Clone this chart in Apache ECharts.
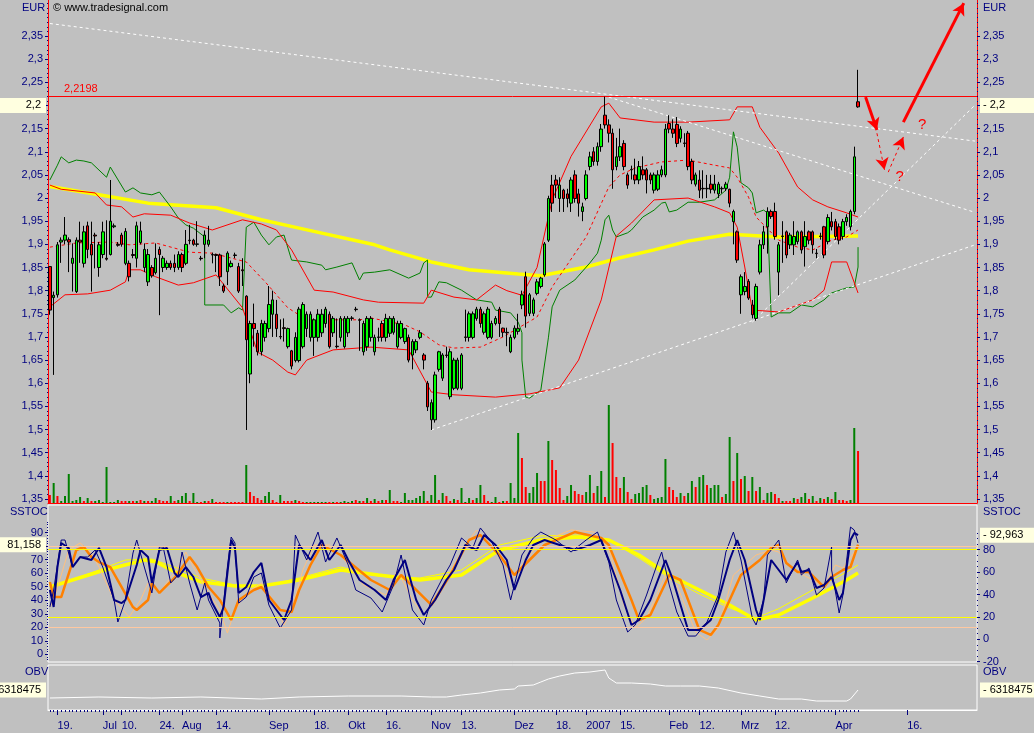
<!DOCTYPE html>
<html><head><meta charset="utf-8">
<script src="https://cdn.jsdelivr.net/npm/echarts/dist/echarts.min.js"></script>
<style>html,body{margin:0;padding:0;background:#c0c0c0;overflow:hidden}#c{width:1034px;height:733px}</style>
</head><body><div id="c"></div>
<script>
// ---------------- DATA ----------------
const N_CAT = 246;                      // trading-day slots incl. empty future area
const categories = Array.from({length: N_CAT}, (_, i) => String(i));
// [open, close, low, high]
const ohlc = [
[1.852,1.758,1.748,1.852],[1.785,1.790,1.618,1.798],[1.791,1.899,1.785,1.905],[1.905,1.909,1.860,1.915],[1.909,1.920,1.900,1.959],
[1.910,1.905,1.840,1.915],[1.859,1.870,1.798,1.902],[1.798,1.909,1.795,1.915],[1.909,1.905,1.860,1.949],[1.859,1.927,1.850,1.940],
[1.940,1.889,1.870,1.949],[1.900,1.877,1.798,1.949],[1.920,1.918,1.848,1.925],[1.850,1.899,1.830,1.905],[1.878,1.927,1.870,1.949],
[1.870,1.868,1.865,1.952],[1.878,1.950,1.876,2.039],[1.938,1.940,1.935,1.945],[1.900,1.898,1.895,1.905],[1.920,1.900,1.895,1.925],
[1.859,1.928,1.855,1.935],[1.859,1.830,1.820,1.865],[1.878,1.876,1.870,1.890],[1.870,1.940,1.850,1.949],[1.904,1.929,1.900,1.949],
[1.850,1.889,1.840,1.902],[1.819,1.878,1.810,1.890],[1.850,1.832,1.828,1.855],[1.839,1.870,1.835,1.902],[1.889,1.878,1.747,1.895],
[1.850,1.870,1.840,1.875],[1.850,1.859,1.845,1.865],[1.859,1.850,1.845,1.865],[1.859,1.850,1.840,1.878],[1.850,1.878,1.845,1.885],
[1.878,1.850,1.840,1.882],[1.859,1.900,1.855,1.931],[1.909,1.908,1.900,1.942],[1.909,1.900,1.897,1.912],[1.900,1.901,1.895,1.950],
[1.870,1.869,1.865,1.875],[1.900,1.920,1.870,1.930],[1.900,1.909,1.895,1.940],[1.878,1.877,1.859,1.882],[1.878,1.876,1.840,1.880],
[1.877,1.830,1.810,1.880],[1.810,1.799,1.795,1.815],[1.841,1.881,1.812,1.885],[1.852,1.859,1.850,1.865],[1.877,1.876,1.870,1.882],
[1.852,1.799,1.795,1.860],[1.845,1.843,1.810,1.870],[1.788,1.694,1.499,1.790],[1.620,1.729,1.600,1.735],[1.729,1.718,1.679,1.772],
[1.708,1.668,1.660,1.715],[1.668,1.729,1.660,1.737],[1.699,1.729,1.690,1.735],[1.718,1.770,1.710,1.810],[1.749,1.780,1.700,1.800],
[1.749,1.718,1.700,1.780],[1.701,1.700,1.695,1.738],[1.720,1.718,1.690,1.740],[1.679,1.718,1.675,1.720],[1.670,1.637,1.630,1.672],
[1.649,1.699,1.645,1.710],[1.649,1.760,1.645,1.765],[1.679,1.770,1.675,1.775],[1.718,1.749,1.700,1.755],[1.699,1.749,1.690,1.755],
[1.699,1.737,1.659,1.740],[1.699,1.749,1.690,1.760],[1.709,1.749,1.700,1.760],[1.729,1.760,1.720,1.765],[1.749,1.679,1.675,1.755],
[1.709,1.740,1.700,1.745],[1.680,1.679,1.675,1.740],[1.699,1.740,1.690,1.745],[1.679,1.740,1.675,1.745],[1.709,1.740,1.700,1.745],
[1.741,1.740,1.735,1.745],[1.760,1.759,1.755,1.765],[1.737,1.736,1.670,1.740],[1.668,1.729,1.660,1.735],[1.679,1.740,1.670,1.745],
[1.699,1.740,1.690,1.745],[1.668,1.699,1.660,1.705],[1.700,1.699,1.690,1.720],[1.729,1.699,1.690,1.735],[1.699,1.740,1.690,1.750],
[1.708,1.740,1.700,1.745],[1.710,1.740,1.705,1.745],[1.679,1.729,1.675,1.735],[1.699,1.729,1.695,1.735],[1.690,1.718,1.685,1.720],
[1.699,1.650,1.645,1.705],[1.661,1.690,1.630,1.695],[1.672,1.690,1.665,1.695],[1.699,1.709,1.695,1.715],[1.661,1.650,1.630,1.665],
[1.600,1.549,1.540,1.605],[1.521,1.558,1.499,1.565],[1.521,1.618,1.515,1.625],[1.630,1.668,1.625,1.670],[1.611,1.661,1.605,1.665],
[1.661,1.660,1.655,1.679],[1.571,1.668,1.565,1.675],[1.589,1.650,1.585,1.655],[1.589,1.650,1.585,1.655],[1.589,1.661,1.585,1.665],
[1.700,1.699,1.690,1.759],[1.699,1.750,1.690,1.755],[1.699,1.750,1.695,1.755],[1.740,1.760,1.735,1.765],[1.760,1.729,1.720,1.765],
[1.710,1.750,1.705,1.755],[1.699,1.760,1.695,1.765],[1.699,1.729,1.695,1.735],[1.729,1.740,1.725,1.745],[1.760,1.729,1.700,1.765],
[1.719,1.710,1.700,1.720],[1.710,1.709,1.680,1.720],[1.668,1.699,1.665,1.705],[1.699,1.719,1.695,1.725],[1.712,1.718,1.705,1.750],
[1.769,1.791,1.760,1.800],[1.830,1.745,1.720,1.841],[1.751,1.791,1.745,1.795],[1.751,1.780,1.745,1.785],[1.794,1.819,1.790,1.825],
[1.809,1.827,1.805,1.830],[1.834,1.901,1.830,1.905],[1.909,1.999,1.905,2.005],[2.028,1.989,1.970,2.050],[2.039,2.028,2.000,2.050],
[1.999,2.028,1.970,2.045],[2.017,1.999,1.970,2.020],[2.009,1.999,1.980,2.020],[1.989,2.039,1.970,2.045],[2.050,1.999,1.990,2.060],
[2.009,1.989,1.960,2.020],[1.971,1.981,1.950,1.990],[1.999,2.050,1.995,2.060],[2.068,2.089,2.060,2.100],[2.100,2.079,2.070,2.110],
[2.079,2.111,2.070,2.120],[2.111,2.149,2.100,2.160],[2.179,2.158,2.150,2.219],[2.158,2.140,2.120,2.170],[2.140,2.061,2.020,2.150],
[2.068,2.089,2.060,2.130],[2.089,2.111,2.080,2.150],[2.118,2.068,2.060,2.125],[2.050,2.028,2.020,2.055],[2.062,2.061,2.040,2.070],
[2.050,2.039,2.030,2.085],[2.039,2.068,2.030,2.080],[2.061,2.050,2.040,2.090],[2.061,2.039,2.010,2.065],[2.050,2.039,2.030,2.055],
[2.017,2.050,2.010,2.055],[2.019,2.050,2.015,2.060],[2.050,2.061,2.045,2.070],[2.050,2.149,2.045,2.160],[2.161,2.149,2.140,2.179],
[2.149,2.140,2.130,2.170],[2.159,2.118,2.110,2.175],[2.129,2.149,2.120,2.155],[2.119,2.118,2.110,2.140],[2.140,2.068,2.060,2.145],
[2.079,2.039,2.030,2.085],[2.030,2.050,2.025,2.055],[2.039,2.017,2.000,2.060],[2.021,2.020,1.999,2.060],[2.020,2.021,2.000,2.050],
[2.030,2.019,2.010,2.050],[2.017,2.030,2.010,2.050],[2.009,2.030,2.000,2.035],[2.020,2.021,2.010,2.025],[2.021,2.030,2.015,2.035],
[2.019,1.989,1.980,2.020],[1.949,1.971,1.900,1.975],[1.927,1.866,1.860,1.930],[1.791,1.830,1.750,1.835],[1.798,1.809,1.790,1.840],
[1.820,1.784,1.780,1.825],[1.769,1.748,1.740,1.780],[1.740,1.809,1.735,1.815],[1.840,1.899,1.835,1.910],[1.899,1.927,1.890,1.940],
[1.938,1.971,1.880,1.980],[1.971,1.960,1.955,1.975],[1.971,1.917,1.910,1.990],[1.840,1.899,1.790,1.905],[1.918,1.917,1.860,1.950],
[1.927,1.877,1.870,1.930],[1.899,1.920,1.890,1.925],[1.899,1.917,1.877,1.950],[1.906,1.927,1.900,1.930],[1.927,1.888,1.880,1.930],
[1.895,1.917,1.852,1.950],[1.927,1.909,1.900,1.930],[1.927,1.899,1.880,1.930],[1.881,1.880,1.870,1.890],[1.918,1.917,1.910,1.925],
[1.938,1.877,1.870,1.940],[1.906,1.958,1.900,1.965],[1.949,1.938,1.930,1.970],[1.949,1.917,1.910,1.955],[1.938,1.909,1.900,1.945],
[1.917,1.949,1.910,1.955],[1.949,1.958,1.940,1.965],[1.938,1.971,1.930,1.975],[1.971,2.089,1.965,2.111],[2.208,2.197,2.195,2.277]
];
// volume (relative units); positive = up-volume (green), negative = down-volume (red)
const volume = [
-8,20,-7,2,7,29,2,3,6,-2,5,-2,2,3,1,36,1,1,3,-2,-2,2,-2,2,-3,2,-2,2,5,-3,
-2,-2,7,-2,3,7,10,-2,10,1,-1,2,-2,4,-1,-1,-1,1,-1,-1,-1,-1,38,-11,-7,-5,-3,7,11,-3,
-1,8,-2,-2,-2,3,-2,-1,1,1,1,1,1,1,-1,1,-1,1,2,1,2,-3,2,-2,5,-2,4,-2,3,-3,
13,-2,-2,1,10,3,3,5,7,12,-2,8,28,-3,10,-7,-2,4,-3,15,1,5,-3,5,18,-8,-2,1,6,-1,
2,-2,20,5,70,-45,-16,10,16,30,-22,-22,62,-43,-33,-15,-3,7,18,-12,-9,-8,11,28,-10,17,32,-6,98,-60,
-26,-15,26,-11,-4,9,10,16,18,-8,4,5,6,44,-16,-13,-6,10,-7,10,22,-16,26,28,-18,15,18,18,-6,9,
66,-22,50,-24,27,-12,26,-12,16,-3,10,11,-9,-5,2,-2,-2,5,-4,6,10,-4,7,-2,5,-4,6,-4,11,-3,
-3,-2,3,75,-52
];
// indicator lines: [slot index, value]
const ma200 = [[0,2.025],[13,2.007],[26,1.989],[44,1.979],[56,1.953],[66,1.935],[86,1.899],[90,1.888],[101,1.862],[111,1.845],[124,1.836],[130,1.832],[142,1.851],[151,1.871],[160,1.888],[169,1.907],[180,1.922],[193,1.916],[214,1.918]];
const bbUpper = [[0,2.028],[2.6,2.019],[11.9,2.011],[15.4,1.985],[19.1,1.981],[21.7,1.959],[25.2,1.966],[32.3,1.963],[36.5,1.946],[42.9,1.931],[50.8,1.953],[55.6,1.944],[60.4,1.931],[64.1,1.888],[70.2,1.801],[74.7,1.797],[82.6,1.780],[87.4,1.775],[98.8,1.773],[100.6,1.801],[106.7,1.786],[113.1,1.780],[118.3,1.812],[121,1.800],[125,1.790],[129,1.850],[133.2,1.996],[138,2.090],[145.6,2.197],[148.3,2.205],[150.9,2.173],[159.7,2.164],[168.7,2.164],[180,2.169],[182.2,2.197],[185.9,2.197],[188,2.153],[193.3,2.097],[197.8,2.024],[202,1.996],[205.7,1.981],[211,1.968],[213.7,1.959]];
const bbMiddle = [[0,1.894],[7.4,1.903],[16.4,1.905],[20.7,1.899],[27.8,1.903],[36.5,1.883],[42.9,1.881],[51.6,1.862],[56.9,1.819],[63,1.763],[67.5,1.737],[76.3,1.737],[81.5,1.737],[84.7,1.741],[93.5,1.726],[98,1.711],[102.5,1.683],[106.7,1.676],[113.8,1.678],[119.9,1.700],[128.9,1.743],[133.2,1.808],[142.2,1.916],[148.3,2.024],[150.9,2.050],[155.4,2.065],[161.5,2.078],[168.7,2.082],[175.5,2.071],[180,2.065],[181.9,2.045],[184.5,2.002],[187.2,1.959],[193.3,1.909],[197.8,1.894],[202,1.888],[206.5,1.909],[211,1.916],[213.7,1.931]];
const bbLower = [[0,1.765],[4,1.791],[10.1,1.793],[16.4,1.801],[19.9,1.819],[21.2,1.845],[24.4,1.845],[27.8,1.830],[33.9,1.812],[38.4,1.817],[43.7,1.834],[50.8,1.763],[55.1,1.667],[58.8,1.650],[63,1.624],[65.4,1.618],[68.3,1.650],[74.7,1.672],[85.3,1.678],[94.5,1.672],[101.4,1.581],[106.7,1.575],[118.3,1.570],[127.1,1.577],[135,1.590],[140.3,1.650],[145.6,1.780],[149.9,1.918],[153.6,1.946],[159.7,1.996],[169.4,2.000],[175.5,1.981],[180,1.968],[181.9,1.937],[183.5,1.851],[186.1,1.758],[193.3,1.754],[202,1.780],[204.7,1.801],[206.5,1.862],[211,1.862],[213.7,1.795]];
const greenStop = [[0,2.039],[1.9,2.071],[3.2,2.089],[4.5,2.076],[6.6,2.082],[9.3,2.080],[11.4,2.076],[15.1,2.045],[16.4,2.067],[19.9,2.013],[21.7,2.022],[24.4,2.011],[27,2.007],[29.1,2.013],[32.3,1.981],[33.9,1.957],[35.7,1.942],[38.4,1.935],[40.6,1.916],[41.3,1.769],[46.3,1.769],[48.2,1.752],[49.8,1.763],[51.3,1.758],[52.2,1.937],[54.3,1.948],[55.6,1.920],[57.5,1.899],[59.6,1.916],[62.2,1.920],[64.3,1.866],[67.5,1.862],[71.5,1.855],[72.8,1.845],[76.3,1.851],[80,1.860],[81.5,1.823],[83.4,1.838],[86,1.840],[90,1.845],[95.3,1.827],[98,1.838],[98.8,1.860],[99.8,1.866],[100.1,1.786],[101.4,1.786],[103.3,1.819],[105.1,1.817],[108.6,1.801],[113.1,1.780],[116.5,1.775],[118.3,1.758],[121.8,1.752],[123.9,1.732],[125,1.709],[125.2,1.650],[126.3,1.570],[127.1,1.568],[128.9,1.579],[129.7,1.585],[131.8,1.698],[133.2,1.765],[135,1.801],[138.5,1.823],[143,1.860],[144.8,1.881],[145.6,1.909],[146.9,1.953],[147.7,1.963],[149.1,1.931],[150.1,1.916],[152.8,1.925],[154.4,1.931],[157,1.959],[159.7,1.974],[161.5,1.989],[162.8,1.991],[164.2,1.970],[166,1.974],[168.7,1.991],[172.1,1.991],[175.5,1.996],[179.2,2.017],[180,2.045],[180.8,2.143],[182.2,2.110],[182.7,2.033],[184.5,2.022],[186.1,2.011],[187.2,1.968],[188.8,1.974],[190.1,1.968],[190.6,1.743],[193.3,1.752],[195.9,1.752],[198.6,1.769],[202,1.765],[204.7,1.780],[207.3,1.795],[211,1.806],[212.7,1.808],[213.7,1.851],[214,1.894]];
const trendLines = [
  [[0,2.377],[245,2.123]],
  [[147.5,2.218],[245,1.969]],
  [[101,1.499],[245,1.899]],
  [[186,1.732],[245,2.201]]
];
const resistanceLevel = 2.2198;
const arrowsSolid = [[[215.5,2.218],[219,2.147]], [[226.4,2.164],[242,2.421]]];
const arrowsDashed = [[[219.2,2.140],[221.3,2.061]], [[222.1,2.056],[226.4,2.132]]];
const questionMarks = [[231.4,2.158],[225,2.045]];
// stochastic panel (left-scale units)
const stochK = [[0,47.6],[0.8,35],[2.1,64.6],[3.4,82.4],[4.8,78.7],[6.1,64.6],[7.9,72],[10.6,69.8],[13.2,78.7],[15.1,64.6],[17.2,40.2],[18.5,37.9],[20.4,40.2],[22.5,66.1],[23.8,77.2],[25.7,72],[27.3,52.8],[29.1,77.2],[31,78.7],[32.6,60.2],[34.4,57.2],[36.3,64.6],[37.9,57.2],[39.7,42.4],[41.6,45.4],[43.2,37.9],[45,27.6],[46.3,35],[47.7,84.6],[49,78.7],[50.3,45.4],[52.2,49.8],[53.7,60.9],[55.6,67.6],[58.2,40.2],[62.2,25.4],[64.1,40.2],[66.2,80.9],[68.8,69.8],[71.5,84.6],[74.1,69.8],[76.8,80.9],[79.4,69.8],[82.1,55],[86,47.6],[88.7,40.2],[91.3,55],[94,69.8],[96.6,40.2],[99.3,29.1],[101.9,40.2],[104.6,55],[107.2,62.4],[109.9,80.9],[112.5,77.2],[115.2,88.3],[117.8,80.9],[120.5,69.8],[123.1,47.6],[125.8,69.8],[128.4,80.9],[131.1,84.6],[135,80.9],[139,77.2],[143,80.9],[145.6,84.6],[148.3,69.8],[150.9,47.6],[153.6,21.7],[156.2,25.4],[158.9,40.2],[161.5,62.4],[162.8,69.8],[164.7,55],[166.8,36.5],[169.4,18],[172.1,18],[174.7,25.4],[177.4,40.2],[180,69.8],[181.9,84.6],[184,69.8],[186.7,32.8],[188,25.4],[189.3,40.2],[190.6,69.8],[193.3,62.4],[195.1,55],[197.8,68.3],[199.4,60.9],[201.2,62.4],[203.1,49.1],[204.7,51.3],[207.3,57.2],[208.9,40.2],[210,45.4],[211,64.6],[211.8,84.6],[213.1,89.8],[214,88.2]];
const stochKFast = [[0,35],[1.3,47.6],[3.2,84.6],[4,84.6],[5.8,64.6],[7.7,72],[9.8,72],[12.4,77.2],[14,64.6],[16.7,40.2],[18.3,23.9],[19.9,40.2],[22,75],[23.3,84.6],[25.2,64.6],[27,45.4],[28.6,79.4],[29.7,79.4],[31.8,52.8],[33.6,58.7],[35.2,75.7],[37.1,52.8],[38.9,32.8],[40.5,52.8],[42.4,40.2],[44.5,23.2],[45.3,12.1],[46.9,64.6],[47.7,86.8],[48.5,82.4],[49.8,37.9],[51.6,42.4],[53.7,57.2],[55.6,60.2],[57.7,36.5],[61.4,19.5],[63.5,32.8],[65.4,88.3],[68,69.8],[70.7,90.5],[73.3,68.3],[76,86.1],[78.6,66.1],[81.3,47.6],[85.3,41.7],[87.9,31.3],[90.5,51.3],[93.2,73.5],[95.8,32.8],[98.5,21.7],[101.1,40.2],[103.8,56.5],[106.4,66.1],[109.1,86.1],[111.7,78.7],[114.4,93.5],[117,83.1],[119.7,66.1],[122.3,40.2],[125,73.5],[127.6,86.1],[130.3,90.5],[134.2,84.6],[138.2,75.7],[142.2,84.6],[144.8,90.5],[147.5,68.3],[150.1,40.2],[152.8,16.5],[155.4,21.7],[158.1,43.9],[160.7,68.3],[162,75.7],[163.9,51.3],[166,31.3],[168.6,13.5],[171.3,13.5],[173.9,23.9],[176.6,43.9],[179.2,75.7],[181.1,90.5],[183.2,69.8],[185.9,26.9],[187.2,21.7],[188.5,40.2],[189.8,73.5],[192.5,84.6],[195.1,52.8],[197.8,69.8],[199.4,58.7],[201.2,63.9],[203.1,43.9],[204.7,49.1],[206.5,79.4],[207.3,62.4],[208.9,30.6],[210,43.9],[211,69.8],[211.8,94.2],[213.1,92],[214,82.4]];
const stochD = [[0,53.5],[1.3,42.4],[3.4,42.4],[7.1,77.2],[8.5,79.4],[11.4,72],[13.2,68.3],[15.9,64.6],[18.5,49.8],[22,35],[23.3,32.8],[25.7,40.2],[27.3,52.8],[29.1,45.4],[32.6,56.5],[37.1,72],[38.9,64.6],[41.6,49.8],[45,40.2],[47.7,25.4],[50.3,40.2],[53.7,47.6],[55.6,49.8],[60.9,32.8],[63.5,31.3],[66.2,47.6],[68.8,66.1],[71.5,80.9],[76.8,73.5],[84.7,55],[90,47.6],[92.7,58.7],[100.6,36.5],[105.9,58.7],[111.2,84.6],[113.8,88.3],[119.1,73.5],[123.1,58.7],[127.1,69.8],[131.1,80.9],[139,90.5],[145.6,86.1],[148.3,80.9],[153.6,40.2],[156.2,25.4],[158.9,29.1],[164.2,58.7],[166.8,55],[172.1,18],[174.7,14.3],[177.4,21.7],[182.7,58.7],[188,69.8],[191.2,78.7],[193.3,80.9],[195.1,67.6],[197.8,60.9],[201.2,60.9],[204.7,49.8],[207.3,57.2],[210,62.4],[211.8,64.6],[214,81.158]];
const stochDFast = [[0,35],[1.3,40.2],[4.5,77.2],[7.9,82.4],[10.6,75],[13.2,64.6],[16.7,40.2],[21.2,27.6],[23.8,40.2],[25.9,52.8],[29.1,45.4],[33.6,64.6],[35.7,75.7],[37.9,64.6],[41.6,45.4],[45,32.8],[46.9,15.8],[48.5,32.8],[52.2,45.4],[55.6,52.8],[58.8,40.2],[61.7,21.7],[64.3,32.8],[67,62.4],[70.2,80.9],[74.1,80.9],[78.1,69.8],[83.4,51.3],[88.7,43.9],[92.1,62.4],[95.8,40.2],[99.3,29.1],[103.3,43.9],[107.2,66.1],[110.7,84.6],[113.3,92],[117.8,77.2],[121.8,55],[125.8,69.8],[129.7,83.1],[137.7,92],[144.3,90.5],[147.5,78.7],[152.2,36.5],[155.4,19.5],[158.3,26.9],[162.8,58.7],[166,51.3],[170.8,16.5],[174,10.6],[176.9,19.5],[181.4,58.7],[186.7,73.5],[190.6,77.2],[193.3,75.7],[196.7,62.4],[202,55],[204.7,49.8],[207.8,66.1],[209.7,63.9],[214,79.4]];
const stochSlow = [[0,49.8],[13.2,61.1],[24.6,69.8],[28.3,68.5],[32.6,61.1],[39.7,53.7],[48.5,50.6],[55.6,50.6],[66.2,55],[76.8,62.4],[87.4,58.7],[98,55],[108.6,58.7],[119.1,77.2],[129.7,84.6],[140.3,86.8],[148.3,84.6],[156.2,73.5],[164.2,58.7],[172.1,47.6],[180,36.5],[186.7,25.4],[193.3,29.1],[202,41.7],[211,55],[214,60.2]];
const stochSlowFast = [[0,49],[13.2,62.4],[20.4,69.8],[27.3,70.5],[32.6,64.6],[39.7,56.5],[48.5,51.3],[55.6,49.8],[66.2,56.5],[76.8,64.6],[87.4,57.9],[98,56.5],[108.6,62.4],[119.1,80.9],[129.7,87.6],[140.3,88.3],[148.3,84.6],[156.2,71.3],[164.2,56.5],[172.1,44.6],[180,34.3],[186.7,26.9],[193.3,33.8],[202,47.6],[211,60.9],[214,66.1]];
const obv = [[0,5.678e6],[13.2,5.758e6],[26.5,5.678e6],[39.7,5.758e6],[55.6,5.598e6],[66.2,5.758e6],[79.4,5.838e6],[92.7,5.838e6],[100.6,5.758e6],[104.6,5.758e6],[108.6,5.918e6],[113.8,6.078e6],[119.1,6.318e6],[123.1,6.398e6],[124.4,6.638e6],[128.4,6.718e6],[129.7,6.958e6],[132.4,7.198e6],[135,7.438e6],[139,7.678e6],[143,7.758e6],[147,7.918e6],[148.3,7.278e6],[149.6,6.878e6],[153.6,6.878e6],[158.9,6.798e6],[162.8,6.638e6],[166.8,6.638e6],[172.1,6.638e6],[177.4,6.478e6],[182.7,6.078e6],[188,5.838e6],[193.3,5.598e6],[198.6,5.598e6],[202.5,5.438e6],[210.5,5.438e6],[211.8,5.598e6],[214,6.318475e6]];
// axis tick labels
const priceTicks = [1.35,1.4,1.45,1.5,1.55,1.6,1.65,1.7,1.75,1.8,1.85,1.9,1.95,2,2.05,2.1,2.15,2.2,2.25,2.3,2.35];
const stochLeftTicks = [0,10,20,30,40,50,60,70,80,90];
const stochRightTicks = [-20,0,20,40,60,80];
const stochLeftLast = 81.158, stochRightLast = 92.963, obvLast = 6318475;
const xTickLabels = [[2,'19.'],[14,'Jul'],[19,'10.'],[29,'24.'],[35,'Aug'],[44,'14.'],[58,'Sep'],[70,'18.'],[79,'Okt'],[89,'16.'],[101,'Nov'],[109,'13.'],[123,'Dez'],[134,'18.'],[142,'2007'],[151,'15.'],[164,'Feb'],[172,'12.'],[183,'Mrz'],[192,'12.'],[208,'Apr'],[227,'16.']];

// ---------------- CHART ----------------
const FONT = '"Liberation Sans", Arial, sans-serif';
const NAVY = '#000080';
const N = ohlc.length;
const lastClose = ohlc[N-1][1];
const priceMark = Math.round(lastClose * 20) / 20;
const fmtPrice = v => String(Number(v.toFixed(3))).replace('.', ',');
const fmtDec = v => String(v).replace('.', ',');
const labelMap = new Map(xTickLabels);
const range = (a, b, s) => { const r = []; for (let v = a; v <= b + 1e-9; v += s) r.push(Math.round(v * 1000) / 1000); return r; };

const P_MIN = 1.3413, P_MAX = 2.4278;          // price scale of panel
const S_LMIN = -5.70, S_LMAX = 110.51;         // stoch left scale
const S_RMIN = -20.27, S_RMAX = 119.9;         // stoch right scale
const O_MIN = 4718475, O_MAX = 8318475;        // obv scale

const G = {left: 48, right: 57, containLabel: false, outerBoundsMode: 'none'};
const grids = [
  {...G, top: 0, height: 503},
  {...G, top: 0, height: 503},
  {...G, top: 505, height: 157, show: true, borderColor: '#ffffff', borderWidth: 1, backgroundColor: 'transparent'},
  {...G, top: 665, height: 45, show: true, borderColor: '#ffffff', borderWidth: 1, backgroundColor: 'transparent'}
];

const hiddenCat = (gi) => ({type: 'category', gridIndex: gi, data: categories, boundaryGap: true, show: false});
const xAxes = [
  hiddenCat(0),
  {type: 'category', gridIndex: 1, data: categories, boundaryGap: true, axisLine: {show: true, lineStyle: {color: '#ff0000', width: 1}}, axisTick: {show: false}, axisLabel: {show: false}},
  hiddenCat(2),
  {type: 'category', gridIndex: 3, data: categories, boundaryGap: true, axisLine: {show: true, lineStyle: {color: '#ffffff'}},
   axisTick: {show: true, alignWithLabel: true, interval: (i) => i < N, length: 2, lineStyle: {color: NAVY}}, axisLabel: {show: false}},
  {type: 'category', gridIndex: 3, data: categories, boundaryGap: true, position: 'bottom', axisLine: {show: false},
   axisTick: {show: true, alignWithLabel: true, interval: (i) => labelMap.has(i), length: 5, lineStyle: {color: NAVY}},
   axisLabel: {show: true, interval: (i) => labelMap.has(i), formatter: (v, i) => labelMap.get(Number(v)) || '', color: NAVY, fontSize: 11, fontFamily: FONT, align: 'left', margin: 10}}
];

function valAxis(gi, min, max, pos, o) {
  return Object.assign({type: 'value', gridIndex: gi, min, max, position: pos, splitLine: {show: false},
    axisLine: {show: false}, axisTick: {show: false}, axisLabel: {show: false}}, o);
}
const boxLabel = (side, vals, fmt, w) => ({show: true, customValues: vals, formatter: fmt, color: '#000', fontSize: 11, fontFamily: FONT,
  backgroundColor: '#ffffe0', width: w, align: side === 'left' ? 'right' : 'left',
  padding: side === 'left' ? [2, 5, 2, 0] : [2, 0, 2, 3], margin: side === 'left' ? 2 : 3});
const lab = (vals, margin) => ({show: true, customValues: vals, color: NAVY, fontSize: 11, fontFamily: FONT, margin});

const yAxes = [
  // 0,1 price highlight boxes
  valAxis(0, P_MIN, P_MAX, 'left', {axisLabel: boxLabel('left', [priceMark], v => fmtPrice(v), 41)}),
  valAxis(0, P_MIN, P_MAX, 'right', {axisLabel: boxLabel('right', [priceMark], v => '- ' + fmtPrice(v), 51)}),
  // 2,3 price main labels
  valAxis(0, P_MIN, P_MAX, 'left', {axisLine: {show: true, lineStyle: {color: '#ff0000', width: 1}},
    axisTick: {show: true, customValues: priceTicks, length: 3, lineStyle: {color: NAVY}},
    axisLabel: Object.assign(lab(priceTicks.filter(v => Math.abs(v - priceMark) > 1e-6), 5), {formatter: v => fmtPrice(v)})}),
  valAxis(0, P_MIN, P_MAX, 'right', {axisLine: {show: true, lineStyle: {color: '#ff0000', width: 1}},
    axisTick: {show: true, customValues: priceTicks, length: 3, lineStyle: {color: NAVY}},
    axisLabel: Object.assign(lab(priceTicks.filter(v => Math.abs(v - priceMark) > 1e-6), 6), {formatter: v => fmtPrice(v)})}),
  // 4,5 price minor ticks
  valAxis(0, P_MIN, P_MAX, 'left', {axisTick: {show: true, customValues: range(1.34, 2.42, 0.01), length: 1, lineStyle: {color: NAVY}}}),
  valAxis(0, P_MIN, P_MAX, 'right', {axisTick: {show: true, customValues: range(1.34, 2.42, 0.01), length: 1, lineStyle: {color: NAVY}}}),
  // 6 volume
  valAxis(1, 0, 503, 'right', {show: false}),
  // 7,8 stoch boxes
  valAxis(2, S_LMIN, S_LMAX, 'left', {axisLabel: boxLabel('left', [stochLeftLast], v => fmtDec(v), 41)}),
  valAxis(2, S_RMIN, S_RMAX, 'right', {axisLabel: boxLabel('right', [stochRightLast], v => '- ' + fmtDec(v), 51)}),
  // 9,10 stoch labels
  valAxis(2, S_LMIN, S_LMAX, 'left', {axisTick: {show: true, customValues: stochLeftTicks, length: 3, lineStyle: {color: NAVY}},
    axisLabel: lab(stochLeftTicks.filter(v => Math.abs(v - stochLeftLast) > 5), 5)}),
  valAxis(2, S_RMIN, S_RMAX, 'right', {axisTick: {show: true, customValues: stochRightTicks, length: 3, lineStyle: {color: NAVY}},
    axisLabel: lab(stochRightTicks, 6)}),
  // 11,12 stoch minor ticks
  valAxis(2, S_LMIN, S_LMAX, 'left', {axisTick: {show: true, customValues: range(-4, 98, 2), length: 1, lineStyle: {color: NAVY}}}),
  valAxis(2, S_RMIN, S_RMAX, 'right', {axisTick: {show: true, customValues: range(-20, 95, 5), length: 1, lineStyle: {color: NAVY}}}),
  // 13,14 obv boxes
  valAxis(3, O_MIN, O_MAX, 'left', {axisLabel: boxLabel('left', [obvLast], v => String(v), 41)}),
  valAxis(3, O_MIN, O_MAX, 'right', {axisLabel: boxLabel('right', [obvLast], v => '- ' + String(v), 51)})
];

const lineS = (data, color, width, extra) => Object.assign({type: 'line', xAxisIndex: 0, yAxisIndex: 2, data, showSymbol: false, symbol: 'none',
  lineStyle: {color, width}, silent: true, z: 3, animation: false}, extra || {});

const series = [
  {type: 'bar', xAxisIndex: 1, yAxisIndex: 6, barWidth: 2, silent: true, z: 1,
   data: volume.map(v => ({value: Math.abs(v), itemStyle: {color: v >= 0 ? '#008000' : '#ff0000'}}))},
  lineS(ma200, '#ffff00', 3.5, {z: 2}),
  lineS(greenStop, '#008000', 1),
  lineS(bbUpper, '#ff0000', 1),
  lineS(bbLower, '#ff0000', 1),
  lineS(bbMiddle, '#ff0000', 1, {lineStyle: {color: '#ff0000', width: 1, type: [3, 3]}}),
  {type: 'candlestick', xAxisIndex: 0, yAxisIndex: 2, data: ohlc, barWidth: 3, z: 5, silent: true,
   itemStyle: {color: '#00ff00', color0: '#ff0000', borderColor: '#000000', borderColor0: '#000000', borderColorDoji: '#000000', borderWidth: 1},
   markLine: {silent: true, symbol: ['none', 'none'], animation: false,
     lineStyle: {color: '#ff0000', width: 1, type: 'solid'},
     label: {show: true, position: 'insideStartTop', formatter: fmtDec(resistanceLevel), color: '#ff0000', fontSize: 11, fontFamily: FONT, distance: [16, 2]},
     data: [{yAxis: resistanceLevel}]}}
];
trendLines.forEach(t => series.push(lineS(t, '#ffffff', 1, {z: 4, lineStyle: {color: '#ffffff', width: 1, type: [3, 3]}})));
series.push({type: 'line', xAxisIndex: 0, yAxisIndex: 2, data: [], silent: true,
  markLine: {silent: true, animation: false, symbol: ['none', 'arrow'], symbolSize: [10, 12],
    data: arrowsSolid.map(a => [{coord: a[0], lineStyle: {color: '#ff0000', width: 3, type: 'solid'}}, {coord: a[1]}])
      .concat(arrowsDashed.map(a => [{coord: a[0], lineStyle: {color: '#ff0000', width: 1, type: [3, 3]}}, {coord: a[1]}])),
    label: {show: false}},
  markPoint: {silent: true, animation: false, symbol: 'circle', symbolSize: 1, itemStyle: {color: 'rgba(0,0,0,0)'},
    label: {show: true, formatter: '?', color: '#ff0000', fontSize: 15, fontFamily: FONT, position: 'inside'},
    data: questionMarks.map(q => ({coord: q}))}});

// stochastic
series.push({type: 'line', xAxisIndex: 2, yAxisIndex: 9, data: [], silent: true,
  markLine: {silent: true, animation: false, symbol: ['none', 'none'], label: {show: false}, lineStyle: {color: '#ffc8a0', width: 1, type: 'solid'}, data: [{yAxis: 80}, {yAxis: 20}]}});
series.push({type: 'line', xAxisIndex: 2, yAxisIndex: 10, data: [], silent: true,
  markLine: {silent: true, animation: false, symbol: ['none', 'none'], label: {show: false}, lineStyle: {color: '#ffff00', width: 1, type: 'solid'}, data: [{yAxis: 80}, {yAxis: 20}]}});
const stS = (data, color, width) => ({type: 'line', xAxisIndex: 2, yAxisIndex: 9, data, showSymbol: false, symbol: 'none', lineStyle: {color, width}, silent: true, clip: true});
series.push(stS(stochSlowFast, '#ffff00', 1));
series.push(stS(stochSlow, '#ffff00', 3.5));
series.push(stS(stochDFast, '#ffc080', 1));
series.push(stS(stochD, '#ff8000', 2.5));
series.push(stS(stochKFast, '#000080', 1));
series.push(stS(stochK, '#000080', 2));
// obv
series.push({type: 'line', xAxisIndex: 3, yAxisIndex: 13, data: obv, showSymbol: false, symbol: 'none', lineStyle: {color: '#ffffff', width: 1}, silent: true});

const txt = (x, y, text, opt) => ({type: 'text', left: x, top: y, silent: true, style: Object.assign({text, fill: NAVY, font: '11px ' + FONT}, opt || {})});
const graphic = [
  txt(22, 2, 'EUR'), txt(983, 2, 'EUR'),
  txt(53, 2, '\u00a9 www.tradesignal.com', {fill: '#000', font: '11px ' + FONT}),
  txt(10, 506, 'SSTOC'), txt(983, 506, 'SSTOC'),
  txt(25, 666, 'OBV'), txt(983, 666, 'OBV')
];

const chart = echarts.init(document.getElementById('c'), null, {renderer: 'canvas', width: 1034, height: 733});
chart.setOption({
  animation: false, backgroundColor: '#c0c0c0',
  grid: grids, xAxis: xAxes, yAxis: yAxes, series, graphic
});
</script></body></html>
